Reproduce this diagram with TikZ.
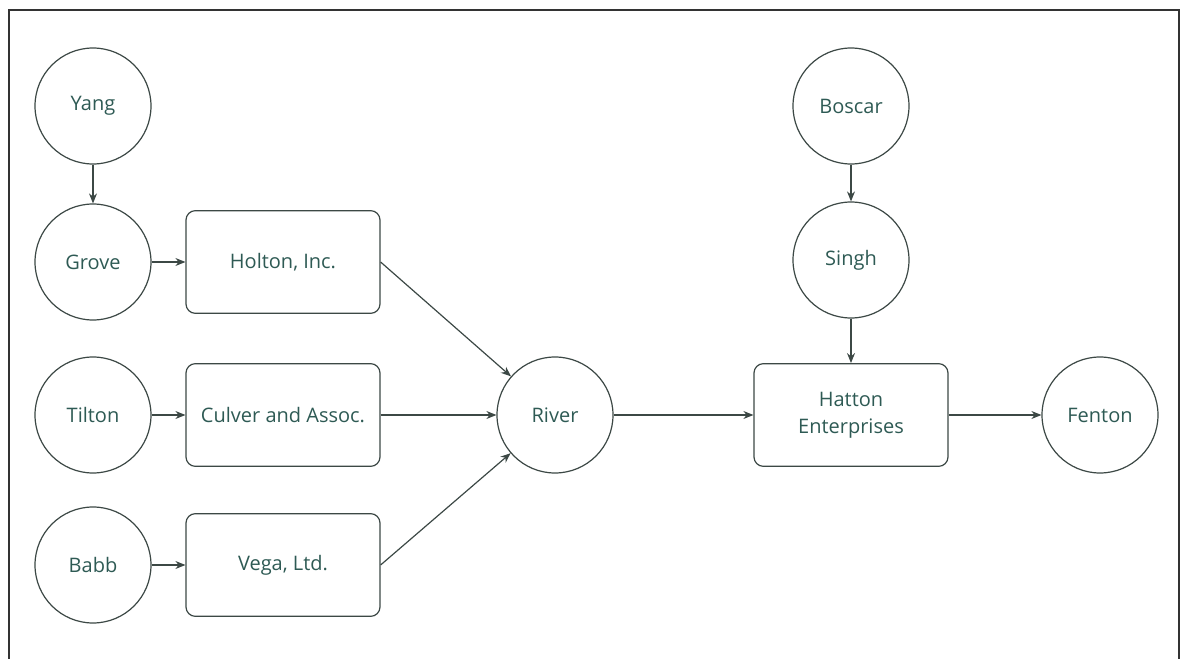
\documentclass[tikz,border=0pt]{standalone}
\usepackage{fontspec}
\setmainfont{Open Sans}
\usetikzlibrary{arrows.meta}
\definecolor{txt}{HTML}{2E5A54}
\definecolor{ln}{HTML}{3C4845}
\tikzset{
  px/.style={x=0.75pt,y=-0.75pt},
  lbl/.style={text=txt,font=\fontsize{15}{20}\selectfont},
  circ/.style={lbl,circle,draw=ln,line width=0.9pt,minimum size=87pt,inner sep=0pt},
  rbox/.style={lbl,rectangle,rounded corners=7pt,draw=ln,line width=0.9pt,minimum width=145.5pt,minimum height=77pt,inner sep=0pt,align=center},
  conn/.style={draw=ln,line width=0.9pt,-{Stealth[length=7.5pt,width=6pt]}}
}
\begin{document}
\begin{tikzpicture}[px]
\useasboundingbox (0,0) rectangle (1186,659);
\coordinate (fbl) at (9,662);
\coordinate (ftl) at (9,10);
\coordinate (ftr) at (1179,10);
\coordinate (fbr) at (1179,662);
\draw[line width=1pt,black!80] (fbl) -- (ftl) -- (ftr) -- (fbr);
\node[circ] (yang) at (93,106) {Yang};
\node[circ] (grove) at (93,262) {Grove};
\node[circ] (tilton) at (93,415) {Tilton};
\node[circ] (babb) at (93,565) {Babb};
\node[rbox] (holton) at (283,262) {Holton,\ Inc.};
\node[rbox] (culver) at (283,415) {Culver\ and\ Assoc.};
\node[rbox] (vega) at (283,565) {Vega, Ltd.};
\node[circ] (river) at (555,415) {River};
\node[rbox] (hatton) at (851,415) {Hatton\\Enterprises};
\node[circ] (boscar) at (851,106) {Boscar};
\node[circ] (singh) at (851,260) {Singh};
\node[circ] (fenton) at (1100,415) {Fenton};
\draw[conn] (yang) -- (grove);
\draw[conn] (grove) -- (holton);
\draw[conn] (tilton) -- (culver);
\draw[conn] (babb) -- (vega);
\draw[conn] (holton.east) -- (river);
\draw[conn] (culver) -- (river);
\draw[conn] (vega.east) -- (river);
\draw[conn] (river) -- (hatton);
\draw[conn] (boscar) -- (singh);
\draw[conn] (singh) -- (hatton);
\draw[conn] (hatton) -- (fenton);
\end{tikzpicture}
\end{document}
